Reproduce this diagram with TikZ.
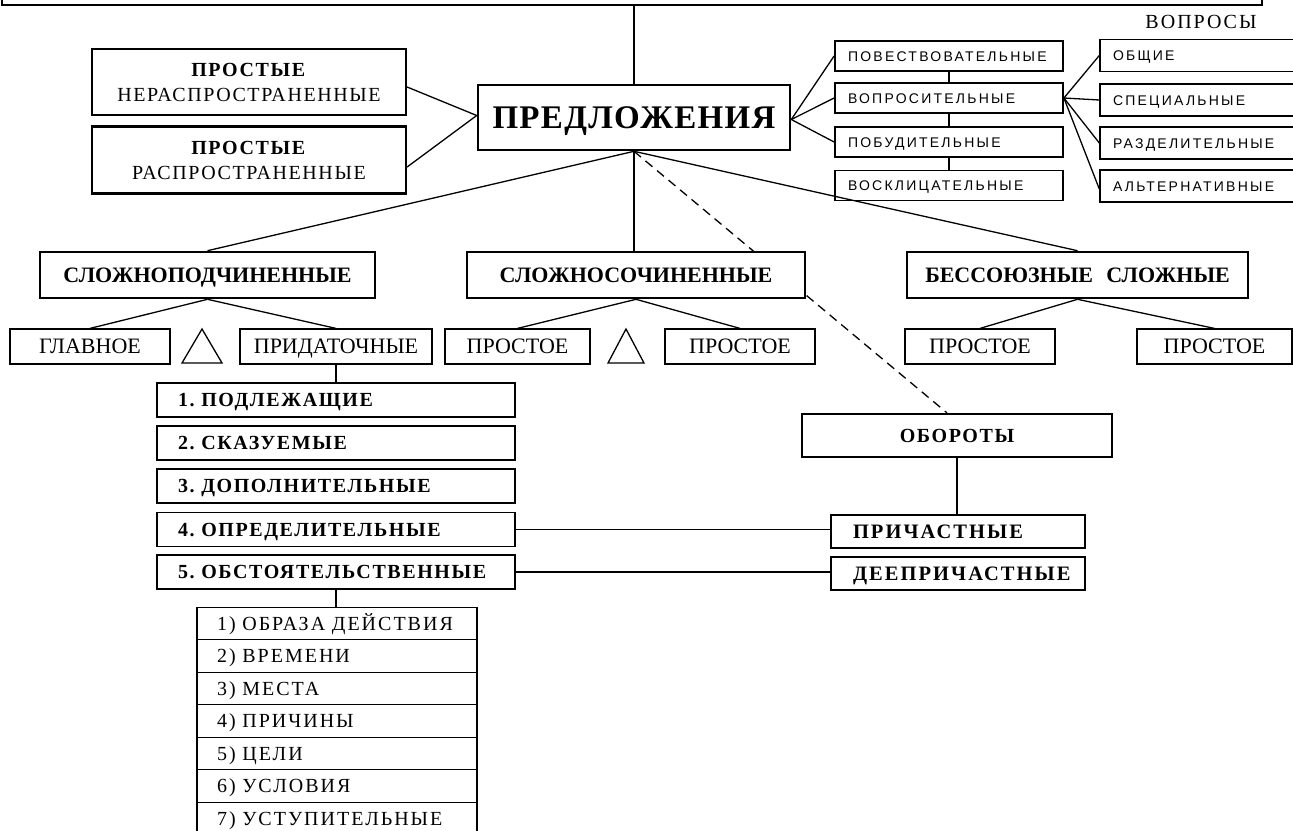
\documentclass[tikz,border=0pt]{standalone}
\usepackage{fontspec}
\setmainfont{Liberation Serif}
\newfontfamily\sansf[LetterSpace=16]{Liberation Sans}
\newfontfamily\lsS[LetterSpace=4]{Liberation Serif}
\newfontfamily\lsM[LetterSpace=8]{Liberation Serif}
\newfontfamily\lsL[LetterSpace=10]{Liberation Serif}
\usetikzlibrary{backgrounds}
\newcommand\fsz[1]{\fontsize{#1}{#1}\selectfont}
\frenchspacing
\begin{document}
\begin{tikzpicture}[x=1pt,y=-1pt,
  capc/.style={text height=#1,text depth=0pt},
  thk/.style={draw,line width=2.6pt,fill=white,inner sep=0pt,align=center},
  thn/.style={draw,line width=1.2pt,fill=white,inner sep=0pt,align=center},
  med/.style={draw,line width=1.8pt,fill=white,inner sep=0pt},
  conn/.style={line width=1.3pt},
  dconn/.style={line width=1.3pt,dash pattern=on 9pt off 6pt},
  tbox/.style={med,minimum height=30,text width=202,inner xsep=13,align=left,font=\sansf\fsz{14},capc=10pt},
  qbox/.style={med,line width=1.4pt,minimum height=32,text width=174,inner xsep=13,align=left,font=\sansf\fsz{14},capc=10pt},
  bigbox/.style={thk,capc=14.6pt,minimum height=46,font=\bfseries\fsz{22}},
  smallbox/.style={thn,capc=14.6pt,minimum height=35,font=\fsz{22}},
  numrow/.style={thn,capc=13.2pt,minimum height=34,text width=316,inner xsep=21,align=left,font=\lsM\bfseries\fsz{20}},
  subrow/.style={thn,capc=13.2pt,minimum height=32.5,text width=240,inner xsep=20,align=left,font=\lsL\fsz{20}},
  partbox/.style={thn,capc=13.5pt,minimum height=33,text width=210,inner xsep=22,align=left,font=\lsL\bfseries\fsz{20.5}},
  tri/.style={line width=1.3pt,line join=miter}
]
\useasboundingbox (0,0) rectangle (1293,830);

% top box (cut off)
\node[thn,minimum width=1260,minimum height=40] (top) at (632,-15) {};

% central node
\node[thk,capc=21.8pt,minimum width=312,minimum height=65,font=\lsS\bfseries\fsz{33}] (pred) at (634,117.5) {ПРЕДЛОЖЕНИЯ};

% simple sentences
\node[thk,line width=2.2pt,minimum width=314,minimum height=66,font=\lsM\fontsize{20}{25}\selectfont] (pn) at (249,82) {\textbf{ПРОСТЫЕ}\\НЕРАСПРОСТРАНЕННЫЕ};
\node[thk,line width=2.2pt,minimum width=314,minimum height=67,font=\lsM\fontsize{20}{25}\selectfont] (pr) at (249,160) {\textbf{ПРОСТЫЕ}\\РАСПРОСТРАНЕННЫЕ};

% purpose types
\node[tbox] (povest) at (949,56) {ПОВЕСТВОВАТЕЛЬНЫЕ};
\node[tbox] (vopros) at (949,98) {ВОПРОСИТЕЛЬНЫЕ};
\node[tbox] (pobud) at (949,142) {ПОБУДИТЕЛЬНЫЕ};
\node[tbox] (voskl) at (949,185.5) {ВОСКЛИЦАТЕЛЬНЫЕ};

% questions
\node[capc=13.2pt,inner sep=0pt,font=\lsL\fsz{20}] (qlabel) at (1201,22) {ВОПРОСЫ};
\node[qbox] (q1) at (1200,55.5) {ОБЩИЕ};
\node[qbox] (q2) at (1200,100) {СПЕЦИАЛЬНЫЕ};
\node[qbox] (q3) at (1200,143) {РАЗДЕЛИТЕЛЬНЫЕ};
\node[qbox] (q4) at (1200,186) {АЛЬТЕРНАТИВНЫЕ};

% complex sentences
\node[bigbox,minimum width=335] (sp) at (207.5,275) {СЛОЖНОПОДЧИНЕННЫЕ};
\node[bigbox,minimum width=338] (ss) at (636,275) {СЛОЖНОСОЧИНЕННЫЕ};
\node[bigbox,minimum width=341] (bs) at (1077.5,275) {БЕССОЮЗНЫЕ\hspace{0.6em}СЛОЖНЫЕ};

% parts
\node[smallbox,minimum width=160] (glav) at (90,346.5) {ГЛАВНОЕ};
\node[smallbox,minimum width=192] (prid) at (336,346.5) {ПРИДАТОЧНЫЕ};
\node[smallbox,minimum width=145] (p1) at (517.5,346.5) {ПРОСТОЕ};
\node[smallbox,minimum width=150] (p2) at (740,346.5) {ПРОСТОЕ};
\node[smallbox,minimum width=150] (p3) at (980,346.5) {ПРОСТОЕ};
\node[smallbox,minimum width=155] (p4) at (1214.5,346.5) {ПРОСТОЕ};

\draw[tri] (202,329) -- (222,363) -- (182,363) -- cycle;
\draw[tri] (626,329) -- (644,363) -- (608,363) -- cycle;

% subordinate clause types
\node[numrow] (n1) at (336,400) {1. ПОДЛЕЖАЩИЕ};
\node[numrow] (n2) at (336,443) {2. СКАЗУЕМЫЕ};
\node[numrow] (n3) at (336,486) {3. ДОПОЛНИТЕЛЬНЫЕ};
\node[numrow] (n4) at (336,529.5) {4. ОПРЕДЕЛИТЕЛЬНЫЕ};
\node[numrow] (n5) at (336,572) {5. ОБСТОЯТЕЛЬСТВЕННЫЕ};

% adverbial types
\node[subrow] (s1) at (337,623.5) {1) ОБРАЗА ДЕЙСТВИЯ};
\node[subrow] (s2) at (337,656) {2) ВРЕМЕНИ};
\node[subrow] (s3) at (337,688.5) {3) МЕСТА};
\node[subrow] (s4) at (337,721) {4) ПРИЧИНЫ};
\node[subrow] (s5) at (337,753.5) {5) ЦЕЛИ};
\node[subrow] (s6) at (337,786) {6) УСЛОВИЯ};
\node[subrow] (s7) at (337,818.5) {7) УСТУПИТЕЛЬНЫЕ};

% constructions
\node[thk,capc=13.2pt,line width=2.2pt,minimum width=310,minimum height=43,font=\lsM\bfseries\fsz{20}] (ob) at (957,435.5) {ОБОРОТЫ};
\node[partbox] (pri) at (958,531.5) {ПРИЧАСТНЫЕ};
\node[partbox] (dee) at (958,573.5) {ДЕЕПРИЧАСТНЫЕ};

% connectors
\begin{pgfonlayer}{background}
\draw[dconn] (pred.south) -- ([xshift=-10pt]ob.north);
\end{pgfonlayer}
\draw[conn] (pred.north) -- (pred.north |- top.south);
\draw[conn] ([yshift=-5pt]pn.east) -- ([yshift=2pt]pred.west);
\draw[conn] ([yshift=-7pt]pr.east) -- ([yshift=2pt]pred.west);
\draw[conn] ([yshift=-2pt]pred.east) -- (povest.west);
\draw[conn] ([yshift=-2pt]pred.east) -- (vopros.west);
\draw[conn] ([yshift=-2pt]pred.east) -- (pobud.west);
\draw[conn] (povest.south) -- (vopros.north);
\draw[conn] (vopros.south) -- (pobud.north);
\draw[conn] (pobud.south) -- (voskl.north);
\draw[conn] (vopros.east) -- (q1.west);
\draw[conn] (vopros.east) -- (q2.west);
\draw[conn] (vopros.east) -- (q3.west);
\draw[conn] (vopros.east) -- ([yshift=-3pt]q4.west);
\draw[conn] (pred.south) -- (sp.north);
\draw[conn] (pred.south) -- (pred.south |- ss.north);
\draw[conn] (pred.south) -- (bs.north);
\draw[conn] (sp.south) -- (glav.north);
\draw[conn] (sp.south) -- (prid.north);
\draw[conn] (ss.south) -- (p1.north);
\draw[conn] (ss.south) -- (p2.north);
\draw[conn] (bs.south) -- (p3.north);
\draw[conn] (bs.south) -- (p4.north);
\draw[conn] (prid.south) -- (prid.south |- n1.north);
\draw[conn] (n5.south) -- (n5.south |- s1.north);
\draw[conn] (n4.east) -- (n4.east -| pri.west);
\draw[conn] (n5.east) -- (n5.east -| dee.west);
\draw[conn] (ob.south) -- (ob.south |- pri.north);
\end{tikzpicture}
\end{document}
